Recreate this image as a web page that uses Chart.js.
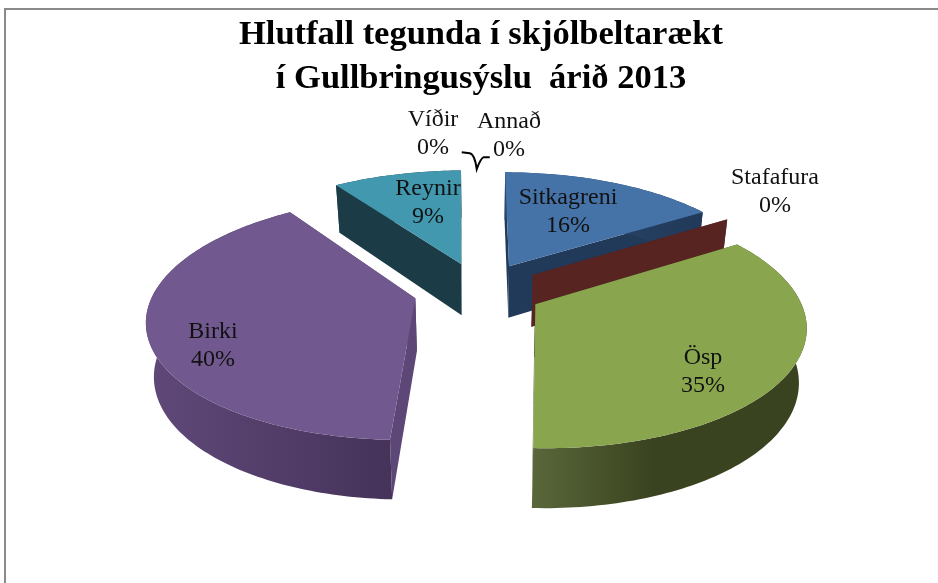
<!DOCTYPE html>
<html>
<head>
<meta charset="utf-8">
<style>
html, body { margin: 0; background: #fff; overflow: hidden; }
#frame { position: absolute; left: 4px; top: 8px; width: 934px; height: 575px; box-sizing: border-box; border-top: 2px solid #8a8a8a; border-left: 2px solid #8a8a8a; }
#myChart { position: absolute; left: 0; top: 0; filter: blur(0.4px); }
</style>
</head>
<body>
<div id="frame"></div>
<canvas id="myChart" width="938" height="583"></canvas>
<script src="https://cdn.jsdelivr.net/npm/chart.js@4"></script>
<script>
// the three "0%" slices are only slivers
const categories = ['Sitkagreni', 'Stafafura', 'Ösp', 'Birki', 'Reynir', 'Víðir', 'Annað']
const values = [15.9, 0.05, 34.7, 39.7, 9.45, 0.1, 0.1]
const titleLines = ['Hlutfall tegunda í skjólbeltarækt', 'í Gullbringusýslu  árið 2013']

const topColors = ['#4572a7', '#572422', '#89a54e', '#71588f', '#4198af', '#db843d', '#93a9cf']
const wallColors = ['#223a59', '#572422', '#46512a', '#5d4776', '#1b3c46', '#6e421e', '#4a5568']
const rimColors = [
    ['#2b4a72', '#223a59'], ['#572422', '#572422'], ['#59673a', '#3a431f'],
    ['#5f4878', '#45335a'], ['#1b3c46', '#1b3c46'], ['#6e421e', '#6e421e'], ['#4a5568', '#4a5568']
]
// how far each slice is pulled out, in pie radii
const explode = [0.24, 0.245, 0.24, 0.255, 0.245, 0.25, 0.25]
// back slices first so the front ones paint over them, Víðir and Annað are too thin to see
const paintOrder = [4, 0, 1, 3, 2]
// label centres [x, first line y]
const labelPos = [[568, 198], [775, 178], [703, 358], [213, 332], [428, 189], [433, 120], [509, 122]]

const view = { cx: 480, cy: 290, rx: 261, ry: 116, persp: 0.16, depth: 52.5, shrink: 0.976 }

function proj(u, v, z) {
    var w = 1 / (1 - view.persp * v)
    return {
        x: view.cx + view.rx * u * w * (z ? view.shrink : 1),
        y: view.cy + view.ry * v * w + z * view.depth * (0.35 + 0.65 * w)
    }
}

function polygon(ctx, pts, fill) {
    ctx.beginPath()
    pts.forEach((p, i) => i ? ctx.lineTo(p.x, p.y) : ctx.moveTo(p.x, p.y))
    ctx.closePath()
    ctx.fillStyle = fill
    ctx.fill()
}

function slicePoints(arc, i, z) {
    var mid = (arc.startAngle + arc.endAngle) / 2
    var ou = explode[i] * Math.cos(mid), ov = explode[i] * Math.sin(mid)
    var pts = []
    var steps = Math.max(1, Math.ceil((arc.endAngle - arc.startAngle) / 0.02))
    for (var s = 0; s <= steps; s++) {
        var a = arc.startAngle + (arc.endAngle - arc.startAngle) * s / steps
        pts.push(proj(ou + Math.cos(a), ov + Math.sin(a), z))
    }
    return { apex: proj(ou, ov, z), rim: pts }
}

const pie3d = {
    id: 'pie3d',
    beforeDatasetsDraw(chart) {
        var ctx = chart.ctx
        var arcs = chart.getDatasetMeta(0).data
        paintOrder.forEach(i => {
            var top = slicePoints(arcs[i], i, 0)
            var low = slicePoints(arcs[i], i, 1)
            var n = top.rim.length - 1
            // cut faces
            polygon(ctx, [top.apex, top.rim[0], low.rim[0], low.apex], wallColors[i])
            polygon(ctx, [top.apex, top.rim[n], low.rim[n], low.apex], wallColors[i])
            // outer rim
            var xs = low.rim.map(p => p.x)
            var grad = ctx.createLinearGradient(Math.min(...xs), 0, Math.max(...xs), 0)
            grad.addColorStop(0, rimColors[i][0])
            grad.addColorStop(i == 2 ? 0.45 : 1, rimColors[i][1])
            if (i == 2) grad.addColorStop(1, rimColors[i][1])
            polygon(ctx, top.rim.concat(low.rim.slice().reverse()), grad)
            // top face
            polygon(ctx, [top.apex].concat(top.rim), topColors[i])
        })
        return false
    },
    afterDraw(chart) {
        var ctx = chart.ctx
        var arcs = chart.getDatasetMeta(0).data
        var total = values.reduce((a, b) => a + b, 0)

        // leader lines of Víðir and Annað
        var anchor = slicePoints(arcs[5], 5, 0).rim[0]
        ctx.strokeStyle = '#000'
        ctx.lineWidth = 2
        ctx.beginPath()
        ctx.moveTo(anchor.x - 15, anchor.y - 17)
        ctx.lineTo(anchor.x - 7, anchor.y - 16)
        ctx.quadraticCurveTo(anchor.x - 2, anchor.y - 15, anchor.x, anchor.y)
        ctx.quadraticCurveTo(anchor.x + 4, anchor.y - 11, anchor.x + 7, anchor.y - 12)
        ctx.lineTo(anchor.x + 13, anchor.y - 12)
        ctx.stroke()

        ctx.font = '24px "Liberation Serif"'
        ctx.fillStyle = '#111'
        ctx.textAlign = 'center'
        ctx.textBaseline = 'middle'
        categories.forEach((name, i) => {
            ctx.fillText(name, labelPos[i][0], labelPos[i][1])
            ctx.fillText(Math.round(values[i] / total * 100) + '%', labelPos[i][0], labelPos[i][1] + 28)
        })
    }
}

var ctx = document.getElementById('myChart')
var myChart = new Chart(ctx, {
    type: 'pie',
    data: {
        labels: categories,
        datasets: [{ data: values, backgroundColor: topColors, borderWidth: 0 }]
    },
    options: {
        responsive: false,
        animation: false,
        layout: { padding: { left: 24 } },
        plugins: {
            legend: { display: false },
            tooltip: { enabled: false },
            title: {
                display: true,
                text: titleLines,
                color: '#000',
                font: { family: '"Liberation Serif"', size: 34.5, weight: 'bold', lineHeight: 1.25 },
                padding: { top: 14, bottom: 10 }
            }
        }
    },
    plugins: [pie3d]
})
</script>
</body>
</html>
